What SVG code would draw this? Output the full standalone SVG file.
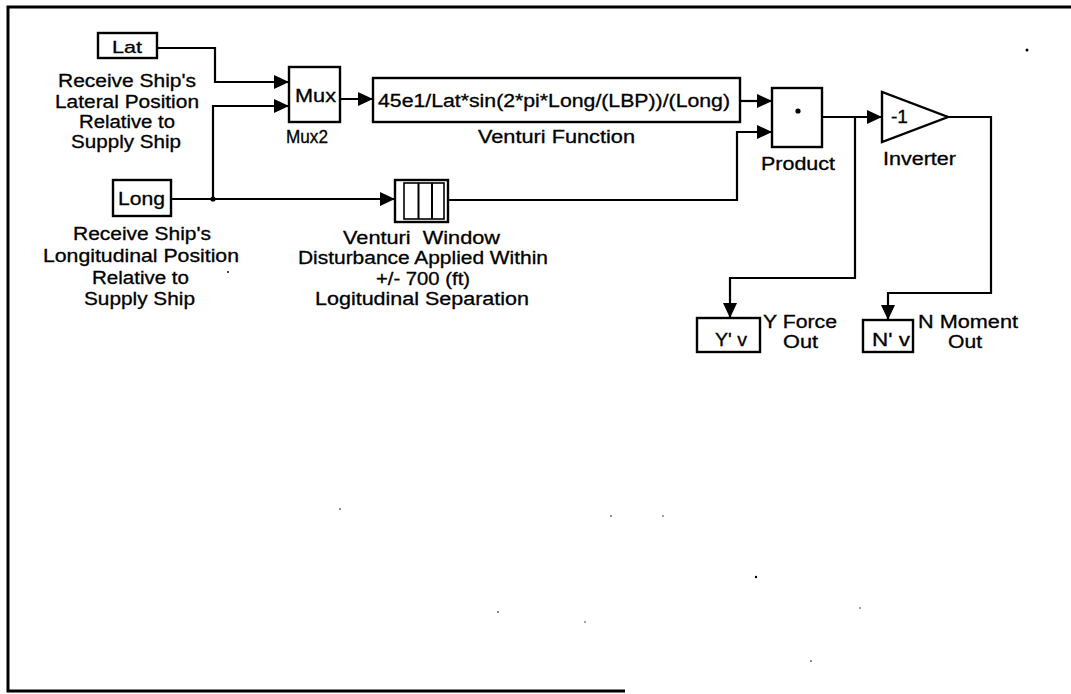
<svg xmlns="http://www.w3.org/2000/svg" width="1071" height="694" viewBox="0 0 1071 694">
<style>
text{font-family:"Liberation Sans",Arial,Helvetica,sans-serif;font-size:18px;fill:#000;stroke:#000;stroke-width:0.3}
.box{fill:#fff;stroke:#000;stroke-width:2.4}
.wire{fill:none;stroke:#000;stroke-width:2.2;stroke-linejoin:miter}
.frame{fill:none;stroke:#000;stroke-width:3}
.speck{fill:#000}
</style>
<defs>
<marker id="arr" markerUnits="userSpaceOnUse" markerWidth="16" markerHeight="14" refX="15" refY="7" orient="auto">
<path d="M0,0 L15,7 L0,14 z" fill="#000"/>
</marker>
</defs>
<rect width="1071" height="694" fill="#fff"/>
<g id="frame">
<path class="frame" d="M1071,7 L8,7 L8,691 L625,691"/>
</g>
<g id="connectors">
<path class="wire" d="M157,48 H215 V82 H289" marker-end="url(#arr)"/>
<path class="wire" d="M213,199 V106 H289" marker-end="url(#arr)"/>
<path class="wire" d="M171,199 H395" marker-end="url(#arr)"/>
<path class="wire" d="M340,99 H373" marker-end="url(#arr)"/>
<path class="wire" d="M740,101 H772" marker-end="url(#arr)"/>
<path class="wire" d="M448,200 H737 V132 H772" marker-end="url(#arr)"/>
<path class="wire" d="M822,117 H882" marker-end="url(#arr)"/>
<path class="wire" d="M855,117 V278 H730 V318" marker-end="url(#arr)"/>
<path class="wire" d="M948,117 H991 V293 H888 V320" marker-end="url(#arr)"/>
<circle cx="213" cy="199" r="2.6" fill="#000"/>
</g>
<g id="lat">
<rect class="box" x="98" y="33" width="59" height="25"/>
<text x="112" y="53" textLength="30" lengthAdjust="spacingAndGlyphs" style="font-size:17px">Lat</text>
<text x="58" y="87" textLength="138" lengthAdjust="spacingAndGlyphs">Receive Ship's</text>
<text x="55" y="108" textLength="144" lengthAdjust="spacingAndGlyphs">Lateral Position</text>
<text x="79" y="128" textLength="96" lengthAdjust="spacingAndGlyphs">Relative to</text>
<text x="71" y="148" textLength="110" lengthAdjust="spacingAndGlyphs">Supply Ship</text>
</g>
<g id="long">
<rect class="box" x="113" y="180" width="58" height="36"/>
<text x="118" y="205" textLength="47" lengthAdjust="spacingAndGlyphs">Long</text>
<text x="73" y="240" textLength="138" lengthAdjust="spacingAndGlyphs">Receive Ship's</text>
<text x="43" y="262" textLength="196" lengthAdjust="spacingAndGlyphs">Longitudinal Position</text>
<text x="92" y="284" textLength="97" lengthAdjust="spacingAndGlyphs">Relative to</text>
<text x="84" y="305" textLength="111" lengthAdjust="spacingAndGlyphs">Supply Ship</text>
</g>
<g id="mux">
<rect class="box" x="289" y="67" width="51" height="55"/>
<text x="295" y="102" textLength="41" lengthAdjust="spacingAndGlyphs">Mux</text>
<text x="286" y="143" textLength="42" lengthAdjust="spacingAndGlyphs">Mux2</text>
</g>
<g id="venturi-function">
<rect class="box" x="373" y="78" width="367" height="44"/>
<text x="378" y="107" textLength="352" lengthAdjust="spacingAndGlyphs">45e1/Lat*sin(2*pi*Long/(LBP))/(Long)</text>
<text x="478" y="143" textLength="157" lengthAdjust="spacingAndGlyphs">Venturi Function</text>
</g>
<g id="venturi-window">
<rect class="box" x="395" y="180" width="53" height="42"/>
<rect x="404" y="183" width="40" height="36" fill="none" stroke="#000" stroke-width="1.6"/>
<line x1="418.5" y1="183" x2="418.5" y2="219" stroke="#000" stroke-width="2"/>
<line x1="432" y1="183" x2="432" y2="219" stroke="#000" stroke-width="2"/>
<text x="343" y="244" textLength="157" lengthAdjust="spacingAndGlyphs" xml:space="preserve">Venturi  Window</text>
<text x="298" y="264" textLength="250" lengthAdjust="spacingAndGlyphs">Disturbance Applied Within</text>
<text x="376" y="285" textLength="94" lengthAdjust="spacingAndGlyphs">+/- 700 (ft)</text>
<text x="315" y="305" textLength="214" lengthAdjust="spacingAndGlyphs">Logitudinal Separation</text>
</g>
<g id="product">
<rect class="box" x="772" y="88" width="50" height="59"/>
<circle cx="798" cy="111" r="2.6" fill="#000"/>
<text x="761" y="170" textLength="74" lengthAdjust="spacingAndGlyphs">Product</text>
</g>
<g id="inverter">
<polygon class="box" points="882,92 882,142 948,117"/>
<text x="891" y="123" textLength="17" lengthAdjust="spacingAndGlyphs">-1</text>
<text x="883" y="165" textLength="73" lengthAdjust="spacingAndGlyphs">Inverter</text>
</g>
<g id="y-out">
<rect class="box" x="697" y="318" width="63" height="34"/>
<text x="715" y="346" textLength="32" lengthAdjust="spacingAndGlyphs">Y' v</text>
<text x="763" y="328" textLength="74" lengthAdjust="spacingAndGlyphs">Y Force</text>
<text x="783" y="348" textLength="35" lengthAdjust="spacingAndGlyphs">Out</text>
</g>
<g id="n-out">
<rect class="box" x="863" y="320" width="50" height="32"/>
<text x="872" y="346" textLength="38" lengthAdjust="spacingAndGlyphs">N' v</text>
<text x="918" y="328" textLength="100" lengthAdjust="spacingAndGlyphs">N Moment</text>
<text x="948" y="348" textLength="34" lengthAdjust="spacingAndGlyphs">Out</text>
</g>
<g id="specks">
<circle class="speck" cx="1027" cy="50" r="1.5"/>
<circle class="speck" cx="228" cy="272" r="1"/>
<circle class="speck" cx="340" cy="509" r="0.8"/>
<circle class="speck" cx="611" cy="516" r="0.8"/>
<circle class="speck" cx="663" cy="516" r="0.7"/>
<circle class="speck" cx="756" cy="577" r="1.2"/>
<circle class="speck" cx="498" cy="612" r="0.8"/>
<circle class="speck" cx="585" cy="622" r="0.7"/>
<circle class="speck" cx="860" cy="608" r="0.7"/>
<circle class="speck" cx="811" cy="661" r="0.8"/>
</g>
</svg>
